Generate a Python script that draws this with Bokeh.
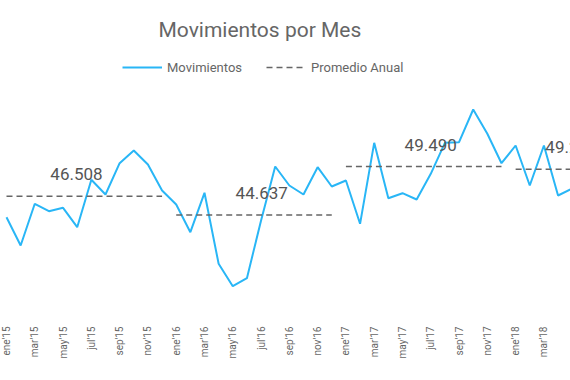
from bokeh.plotting import figure
from bokeh.models import Range1d, FixedTicker, Legend, LegendItem, Label, ColumnDataSource
from bokeh.core.properties import value
from bokeh.embed import file_html
from bokeh.resources import INLINE
import math

# ---- data ----
years = ["2015", "2016", "2017", "2018"]
movimientos = [
    44420, 41590, 45760, 45020, 45360, 43420, 48160, 46690, 49820, 51090, 49690, 47090,  # 2015
    45690, 42920, 46860, 39760, 37520, 38320, 44090, 49490, 47590, 46690, 49420, 47490,  # 2016
    48090, 43760, 51860, 46320, 46820, 46190, 48760, 51860, 51920, 55190, 52760, 49820,  # 2017
    51590, 47590, 51590, 46590, 47290,                                                      # 2018
]
promedio_anual = [46508, 44637, 49490, 49215]
tick_labels = ["ene'15", "mar'15", "may'15", "jul'15", "sep'15", "nov'15",
               "ene'16", "mar'16", "may'16", "jul'16", "sep'16", "nov'16",
               "ene'17", "mar'17", "may'17", "jul'17", "sep'17", "nov'17",
               "ene'18", "mar'18", "may'18"]

# ---- styling ----
BLUE = "#29B6F6"
GRAY = "#666666"
FONT = "Roboto"
label_offsets = [3.1, 4.2, 4.15, 2.1]   # month offset of the average label inside each year

FRAME_H = 312
p = figure(frame_width=570, frame_height=FRAME_H, min_border=0,
           x_range=Range1d(-0.424, 39.88), y_range=Range1d(34890, 66090),
           y_axis_location=None, title_location=None,
           output_backend="svg", toolbar_location=None)
p.outline_line_color = None
p.xgrid.visible = False
p.ygrid.visible = False
p.background_fill_color = "white"
p.border_fill_color = "white"

xs = list(range(len(movimientos)))
r_line = p.line(xs, movimientos, line_color=BLUE, line_width=2)

seg = ColumnDataSource(dict(
    x0=[12 * k for k in range(len(promedio_anual))],
    x1=[12 * k + 11 for k in range(len(promedio_anual))],
    y=promedio_anual,
))
r_avg = p.segment(x0="x0", y0="y", x1="x1", y1="y", source=seg,
                  line_color=GRAY, line_width=1.6, line_dash="6 4")

lab = ColumnDataSource(dict(
    x=[12 * k + label_offsets[k] for k in range(len(promedio_anual))],
    y=promedio_anual,
    t=[f"{v:,}".replace(",", ".") for v in promedio_anual],
))
p.text(x="x", y="y", text="t", source=lab, text_font=value(FONT),
       text_font_size="17px", text_color="#555555", text_align="left",
       text_baseline="alphabetic", y_offset=-22)

# x axis
ticks = list(range(0, 2 * len(tick_labels), 2))
p.xaxis.ticker = FixedTicker(ticks=ticks)
p.xaxis.major_label_overrides = {t: l for t, l in zip(ticks, tick_labels)}
p.xaxis.major_label_orientation = math.pi / 2
p.xaxis.axis_line_color = None
p.xaxis.major_tick_line_color = None
p.xaxis.minor_tick_line_color = None
p.xaxis.major_label_standoff = 8
p.xaxis.major_label_text_font = FONT
p.xaxis.major_label_text_font_size = "10px"
p.xaxis.major_label_text_color = GRAY

# title
p.add_layout(Label(x=158, y=FRAME_H - 29, x_units="screen", y_units="screen",
                   text="Movimientos por Mes", text_font=FONT, text_font_size="21px",
                   text_color=GRAY, text_baseline="alphabetic"))

# legend
legend = Legend(items=[LegendItem(label="Movimientos", renderers=[r_line]),
                       LegendItem(label="Promedio Anual", renderers=[r_avg])],
                location=(122, FRAME_H - 77), orientation="horizontal",
                glyph_width=40, glyph_height=20, label_height=20, label_width=10,
                label_standoff=5, spacing=24, padding=0, margin=0,
                border_line_color=None, background_fill_alpha=0,
                label_text_font=FONT, label_text_font_size="13px",
                label_text_color=GRAY)
p.add_layout(legend)

open("out.html", "w").write(file_html(p, INLINE))
